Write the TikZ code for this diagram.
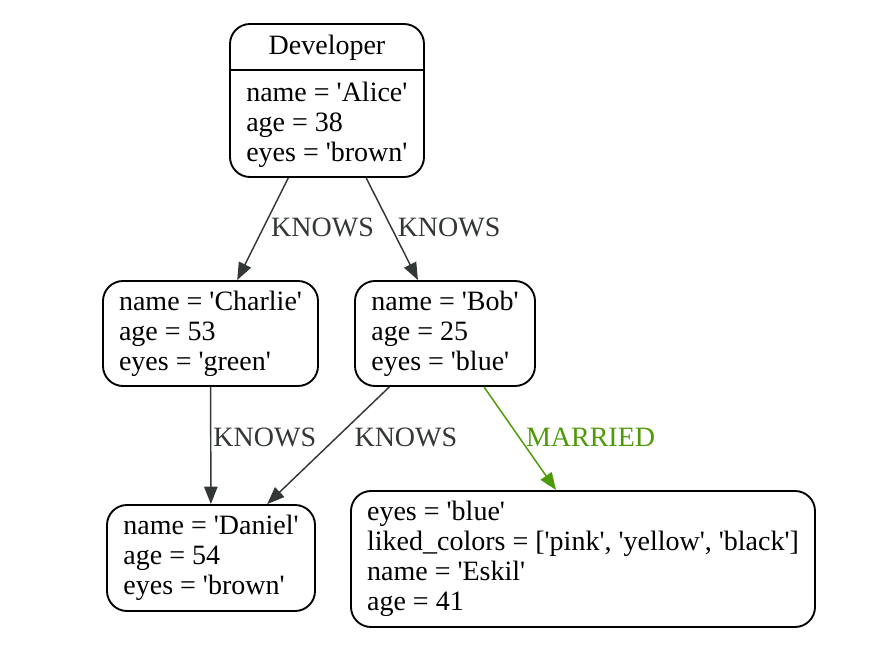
\documentclass[tikz,border=0pt]{standalone}
\usepackage{fontspec}
\setmainfont{Liberation Serif}
\usetikzlibrary{arrows.meta,positioning,calc}
\definecolor{ink}{RGB}{0,0,0}
\definecolor{edgegray}{RGB}{51,55,56}
\definecolor{leaf}{RGB}{78,154,6}
\newcommand{\sq}{\textquotesingle}
\tikzset{
  entity/.style={draw=ink,line width=1.4pt,rounded corners=15pt,align=left,
    inner xsep=12pt,inner ysep=0pt,font=\fontsize{21}{22.5}\selectfont},
  plain/.style={inner sep=0pt,align=left,font=\fontsize{21}{22.5}\selectfont},
  rel/.style={line width=1.1pt,edgegray,-{Triangle[length=13pt,width=10pt]}},
  wed/.style={rel,leaf},
  tag/.style={font=\fontsize{21}{22.5}\selectfont,inner sep=0pt,anchor=west,text=edgegray}
}

\begin{document}
\begin{tikzpicture}[x=0.75pt,y=-0.75pt]
  \useasboundingbox (0,0) rectangle (870,666);
  % typed node with header
  \node[entity,minimum width=145.5pt,minimum height=114.75pt] (dev) at (327,100.5) {};
  \node[plain] (devhead) at (327,47.5) {Developer};
  \node[plain,anchor=west] (devbody) at (246,124.5)
    {name = \sq Alice\sq\\age = 38\\eyes = \sq brown\sq};
  \draw[line width=1.4pt] ($(dev.north west)+(0,47)$) -- ($(dev.north east)+(0,47)$);
  % untyped nodes
  \node[entity,minimum width=161.25pt,minimum height=78.75pt] (charlie) at (210.5,333.5)
    {name = \sq Charlie\sq\\age = 53\\eyes = \sq green\sq};
  \node[entity,minimum width=135pt,minimum height=78.75pt] (bob) at (445,333.5)
    {name = \sq Bob\sq\\age = 25\\eyes = \sq blue\sq};
  \node[entity,minimum width=156pt,minimum height=79.5pt] (daniel) at (211,558)
    {name = \sq Daniel\sq\\age = 54\\eyes = \sq brown\sq};
  \node[entity,minimum width=348pt,minimum height=102pt] (eskil) at (583,559)
    {eyes = \sq blue\sq\\liked\_colors = [\sq pink\sq, \sq yellow\sq, \sq black\sq]\\name = \sq Eskil\sq\\age = 41};
  % relations
  \draw[rel] (dev) -- (charlie) node[tag,pos=.48,xshift=5pt] {KNOWS};
  \draw[rel] (dev) -- (bob) node[tag,pos=.48,xshift=4.5pt] {KNOWS};
  \draw[rel] (charlie) -- (daniel) node[tag,pos=.43,xshift=1.5pt] {KNOWS};
  \draw[rel] (bob) -- (daniel) node[tag,pos=.43,xshift=12.75pt] {KNOWS};
  \draw[wed] ([xshift=29.25pt]bob.south) -- ([xshift=-20.25pt]eskil.north)
    node[tag,text=leaf,pos=.49,xshift=4.5pt] {MARRIED};
\end{tikzpicture}
\end{document}
